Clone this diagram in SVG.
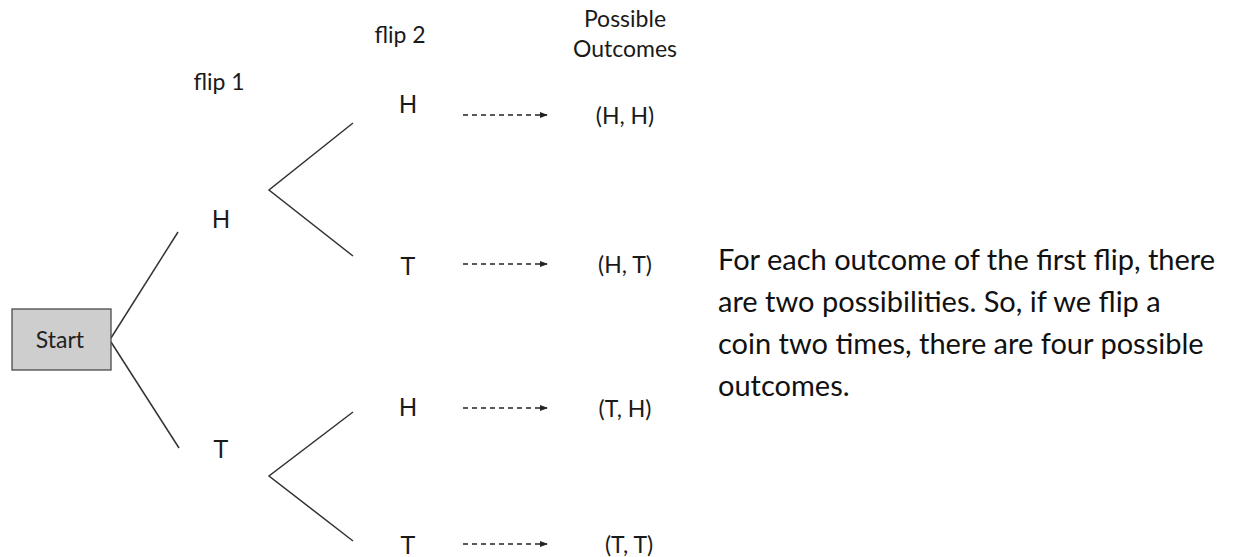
<svg xmlns="http://www.w3.org/2000/svg" width="1255" height="557" viewBox="0 0 1255 557">
<defs>
<style>
.lbl{font-family:"Liberation Sans",Arial,sans-serif;font-size:25px;fill:#1a1a1a;text-anchor:middle}
.hdr{font-family:Lato,"Open Sans",sans-serif;font-size:23px;fill:#1a1a1a;text-anchor:middle}
.out{font-family:Lato,"Open Sans",sans-serif;font-size:23px;fill:#1a1a1a;text-anchor:middle}
.br{stroke:#333;stroke-width:1.5;fill:none}
.dash{stroke:#222;stroke-width:1.3;stroke-dasharray:5,4;fill:none}
.para{font-family:Lato,"Open Sans",sans-serif;font-size:29px;fill:#111}
</style>
<marker id="ah" viewBox="0 0 10 10" refX="9" refY="5" markerWidth="8" markerHeight="8" markerUnits="userSpaceOnUse" orient="auto">
<path d="M0,1 L10,5 L0,9 z" fill="#222"/>
</marker>
</defs>
<rect width="1255" height="557" fill="#fff"/>
<g id="connectors">
<line class="br" x1="111" y1="338" x2="178" y2="232"/>
<line class="br" x1="111" y1="342" x2="179" y2="448"/>
<polyline class="br" points="353,123 269,190 353,256"/>
<polyline class="br" points="353,412 269,476 353,541"/>
<line class="dash" x1="463" y1="115" x2="547" y2="115" marker-end="url(#ah)"/>
<line class="dash" x1="463" y1="264" x2="547" y2="264" marker-end="url(#ah)"/>
<line class="dash" x1="463" y1="408" x2="547" y2="408" marker-end="url(#ah)"/>
<line class="dash" x1="463" y1="544" x2="547" y2="544" marker-end="url(#ah)"/>
</g>
<g id="headers">
<text class="hdr" x="219" y="90">flip 1</text>
<text class="hdr" x="400" y="43">flip 2</text>
<text class="hdr" x="625" y="27">Possible</text>
<text class="hdr" x="625" y="57">Outcomes</text>
</g>
<g id="start">
<rect x="12" y="309" width="99" height="61" fill="#cecece" stroke="#4a4a4a" stroke-width="1.3"/>
<text x="60" y="348" font-family="Lato,'Open Sans',sans-serif" font-size="23" fill="#222" text-anchor="middle">Start</text>
</g>
<g id="flip1-H"><text class="lbl" x="221" y="228">H</text></g>
<g id="flip1-T"><text class="lbl" x="221" y="458">T</text></g>
<g id="flip2-HH"><text class="lbl" x="408" y="113">H</text></g>
<g id="flip2-HT"><text class="lbl" x="408" y="275">T</text></g>
<g id="flip2-TH"><text class="lbl" x="408" y="416">H</text></g>
<g id="flip2-TT"><text class="lbl" x="408" y="554">T</text></g>
<g id="out-HH"><text class="out" x="625" y="124">(H, H)</text></g>
<g id="out-HT"><text class="out" x="625" y="273">(H, T)</text></g>
<g id="out-TH"><text class="out" x="625" y="417">(T, H)</text></g>
<g id="out-TT"><text class="out" x="629" y="553">(T, T)</text></g>
<g id="note">
<text class="para" x="718" y="270">For each outcome of the first flip, there</text>
<text class="para" x="718" y="312">are two possibilities. So, if we flip a</text>
<text class="para" x="718" y="354">coin two times, there are four possible</text>
<text class="para" x="718" y="396">outcomes.</text>
</g>
</svg>
